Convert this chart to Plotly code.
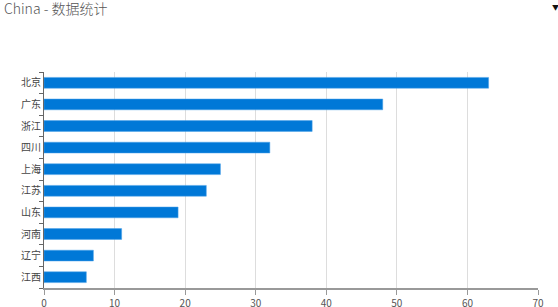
import plotly.graph_objects as go

categories = ["北京", "广东", "浙江", "四川", "上海", "江苏", "山东", "河南", "辽宁", "江西"]
values = [63, 48, 38, 32, 25, 23, 19, 11, 7, 6]
x_ticks = [0, 10, 20, 30, 40, 50, 60, 70]

font = "Noto Sans CJK SC, Noto Sans, sans-serif"

fig = go.Figure(go.Bar(
    y=categories, x=values, orientation="h",
    marker=dict(color="#0078D7", line=dict(color="#4da3e8", width=0.5)),
))

fig.update_layout(
    width=558, height=307,
    margin=dict(l=44, r=20, t=72, b=19, autoexpand=False),
    paper_bgcolor="white", plot_bgcolor="white",
    bargap=0.5,
    showlegend=False,
    font=dict(family=font, size=10, color="#333"),
    title=dict(text="China - 数据统计", x=0, xref="container", xanchor="left",
               y=1, yref="container", yanchor="top",
               pad=dict(l=4, t=4),
               font=dict(family=font, size=14, color="#555", weight=300)),
    xaxis=dict(range=[0, 70], tickvals=x_ticks, showgrid=True, gridcolor="#dddddd",
               gridwidth=1, zeroline=False, showline=True, linecolor="#999999",
               linewidth=2, ticks="outside", ticklen=5, tickcolor="#999999",
               automargin=False, tickfont=dict(size=10, color="#555")),
    yaxis=dict(categoryorder="array", categoryarray=categories[::-1],
               showline=True, linecolor="#666666", linewidth=1,
               ticks="outside", tickson="boundaries", ticklen=4, tickcolor="#666666",
               automargin=False, showgrid=False, tickfont=dict(size=10, color="#444")),
)

fig.add_annotation(text="▼", x=1.036, y=1.30, xref="paper", yref="paper",
                   xanchor="center", yanchor="middle",
                   showarrow=False, font=dict(size=7, color="#111"))

fig.write_html("out.html")
